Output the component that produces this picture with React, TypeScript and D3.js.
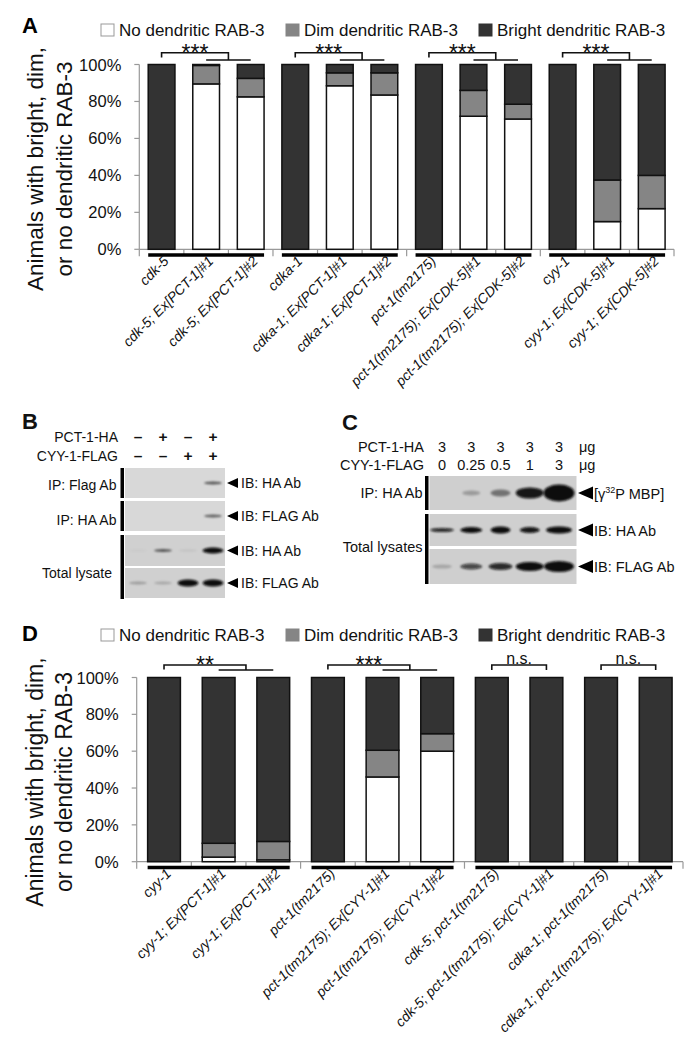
import React from 'react';
import * as d3 from 'd3';

const FONT = "'Liberation Sans', Arial, Helvetica, sans-serif";

// ---------- data ----------
const legendLabels = ['No dendritic RAB-3', 'Dim dendritic RAB-3', 'Bright dendritic RAB-3'];
const legendColors = ['#ffffff', '#858585', '#333333'];
const yTicks = [0, 20, 40, 60, 80, 100];

const categoriesA = [
  'cdk-5', 'cdk-5; Ex[PCT-1]#1', 'cdk-5; Ex[PCT-1]#2',
  'cdka-1', 'cdka-1; Ex[PCT-1]#1', 'cdka-1; Ex[PCT-1]#2',
  'pct-1(tm2175)', 'pct-1(tm2175); Ex[CDK-5]#1', 'pct-1(tm2175); Ex[CDK-5]#2',
  'cyy-1', 'cyy-1; Ex[CDK-5]#1', 'cyy-1; Ex[CDK-5]#2',
];
const noA = [0, 89.5, 82.5, 0, 88.5, 83.5, 0, 72, 70.5, 0, 15, 22];
const dimA = [0, 10, 10, 0, 7, 12, 0, 14, 8, 0, 22.5, 18];
const brightA = [100, 0.5, 7.5, 100, 4.5, 4.5, 100, 14, 21.5, 100, 62.5, 60];
const groupsA = [[0, 2], [3, 5], [6, 8], [9, 11]];
const bracketsA = [
  { kind: 'three', first: 0, label: '***' },
  { kind: 'three', first: 3, label: '***' },
  { kind: 'three', first: 6, label: '***' },
  { kind: 'three', first: 9, label: '***' },
];

const categoriesD = [
  'cyy-1', 'cyy-1; Ex[PCT-1]#1', 'cyy-1; Ex[PCT-1]#2',
  'pct-1(tm2175)', 'pct-1(tm2175); Ex[CYY-1]#1', 'pct-1(tm2175); Ex[CYY-1]#2',
  'cdk-5; pct-1(tm2175)', 'cdk-5; pct-1(tm2175); Ex[CYY-1]#1',
  'cdka-1; pct-1(tm2175)', 'cdka-1; pct-1(tm2175); Ex[CYY-1]#1',
];
const noD = [0, 2.5, 1, 0, 46, 60, 0, 0, 0, 0];
const dimD = [0, 7.5, 10, 0, 14.5, 9.5, 0, 0, 0, 0];
const brightD = [100, 90, 89, 100, 39.5, 30.5, 100, 100, 100, 100];
const groupsD = [[0, 2], [3, 5], [6, 9]];
const bracketsD = [
  { kind: 'three', first: 0, label: '**' },
  { kind: 'three', first: 3, label: '***' },
  { kind: 'pair', first: 6, label: 'n.s.' },
  { kind: 'pair', first: 8, label: 'n.s.' },
];

// Panel B (co-IP) : lane conditions and band intensities
const bPct = ['–', '+', '–', '+'];
const bCyy = ['–', '–', '+', '+'];
const bPanels = [
  { left: 'IP: Flag Ab', right: 'IB: HA Ab', intens: [0, 0, 0, 0.6], thick: [2, 2, 2, 3] },
  { left: 'IP: HA Ab', right: 'IB: FLAG Ab', intens: [0, 0, 0, 0.55], thick: [2, 2, 2, 3] },
  { left: '', right: 'IB: HA Ab', intens: [0.04, 0.6, 0.08, 1], thick: [2, 3, 2, 6] },
  { left: '', right: 'IB: FLAG Ab', intens: [0.25, 0.2, 1, 1], thick: [3, 3, 7, 7] },
];

// Panel C (kinase assay)
const cPct = ['3', '3', '3', '3', '3'];
const cCyy = ['0', '0.25', '0.5', '1', '3'];
const cPanels = [
  { right: 'MBP', intens: [0, 0.25, 0.45, 0.95, 1], thick: [3, 5, 7, 11, 17], width: [16, 18, 20, 28, 31] },
  { right: 'IB: HA Ab', intens: [0.85, 1, 1, 0.95, 1], thick: [4, 6, 7, 6, 7], width: [24, 22, 20, 20, 26] },
  { right: 'IB: FLAG Ab', intens: [0.2, 0.7, 0.85, 1, 1], thick: [4, 6, 7, 9, 11], width: [20, 22, 24, 28, 30] },
];

// ---------- components ----------
type PanelProps = {
  letter: string;
  cats: string[];
  no: number[];
  dim: number[];
  bright: number[];
  groups: number[][];
  brackets: { kind: string; first: number; label: string }[];
  x0: number; x1: number; y0: number; y100: number;
  legendY: number; letterY: number;
  brTop: number; brLeftEnd: number; brLower: number; brText: number;
  titleX: number[]; titleY: number; titleSize: number;
  blackY: number;
};

function StackedPanel(p: PanelProps) {
  const x = d3.scaleBand<number>().domain(d3.range(p.cats.length)).range([p.x0, p.x1]).paddingInner(0.4).paddingOuter(0.2);
  const y = d3.scaleLinear().domain([0, 100]).range([p.y0, p.y100]);
  const step = x.step();
  const cx = (i: number) => (x(i) as number) + x.bandwidth() / 2;
  const legendX = [101, 286, 479];
  const groupEdges = p.groups.slice(1).map((g) => g[0]);
  return (
    <g>
      <text x={22} y={p.letterY} fontSize={22} fontWeight="bold" fontFamily={FONT}>{p.letter}</text>
      {legendLabels.map((l, i) => (
        <g key={l}>
          <rect x={legendX[i]} y={p.legendY - 12} width={13} height={12} fill={legendColors[i]} stroke={i === 0 ? '#999' : legendColors[i]} strokeWidth={1} />
          <text x={legendX[i] + 18} y={p.legendY} fontSize={17} fontFamily={FONT} fill="#111">{l}</text>
        </g>
      ))}
      {/* y title */}
      <g fontFamily={FONT} fontSize={p.titleSize} fill="#111" textAnchor="middle">
        <text transform={`translate(${p.titleX[0]},${p.titleY}) rotate(-90)`}>Animals with bright, dim,</text>
        <text transform={`translate(${p.titleX[1]},${p.titleY}) rotate(-90)`}>or no dendritic RAB-3</text>
      </g>
      {/* y axis */}
      <line x1={p.x0} x2={p.x0} y1={y(0)} y2={y(100)} stroke="#999" strokeWidth={1.2} />
      {yTicks.map((t) => (
        <g key={t}>
          <line x1={p.x0 - 5} x2={p.x0} y1={y(t)} y2={y(t)} stroke="#999" strokeWidth={1.2} />
          <text x={p.x0 - 18} y={y(t) + 6} textAnchor="end" fontSize={16.5} fontFamily={FONT} fill="#111">{t}%</text>
        </g>
      ))}
      {/* x axis */}
      <line x1={p.x0} x2={p.x1} y1={y(0)} y2={y(0)} stroke="#999" strokeWidth={1.2} />
      {d3.range(p.cats.length + 1).map((i) => (
        <line key={i} x1={p.x0 + i * step} x2={p.x0 + i * step} y1={y(0)} y2={y(0) + (groupEdges.includes(i) || i === 0 || i === p.cats.length ? 7 : 5)} stroke="#999" strokeWidth={1.2} />
      ))}
      {/* bars */}
      {p.cats.map((c, i) => {
        const segs = [p.no[i], p.dim[i], p.bright[i]];
        let acc = 0;
        return (
          <g key={c}>
            {segs.map((v, k) => {
              const start = acc;
              acc += v;
              if (v <= 0) return null;
              return (
                <rect key={k} x={x(i)} y={y(start + v)} width={x.bandwidth()} height={y(start) - y(start + v)}
                  fill={legendColors[k]} stroke="#111" strokeWidth={1.5} />
              );
            })}
          </g>
        );
      })}
      {/* group black lines */}
      {p.groups.map((g, i) => (
        <line key={i} x1={x(g[0]) as number} x2={(x(g[1]) as number) + x.bandwidth()} y1={p.blackY} y2={p.blackY} stroke="#000" strokeWidth={3.5} />
      ))}
      {/* x labels */}
      {p.cats.map((c, i) => (
        <text key={c} transform={`translate(${cx(i) + 8},${p.blackY + 7}) rotate(-45)`} textAnchor="end" fontSize={14} fontStyle="italic" fontFamily={FONT} fill="#111">{c}</text>
      ))}
      {/* significance brackets */}
      {p.brackets.map((b, i) => {
        const a = cx(b.first);
        if (b.kind === 'three') {
          const m = (cx(b.first + 1) + cx(b.first + 2)) / 2;
          return (
            <g key={i}>
              <path d={`M${a},${p.brLeftEnd}V${p.brTop}H${m}V${p.brLower}M${cx(b.first + 1)},${p.brLower}H${cx(b.first + 2)}`} fill="none" stroke="#111" strokeWidth={1.6} />
              <text x={(a + m) / 2} y={p.brText} textAnchor="middle" fontSize={b.label === 'n.s.' ? 16 : 23} fontFamily={FONT} fill="#111">{b.label}</text>
            </g>
          );
        }
        const e = cx(b.first + 1);
        return (
          <g key={i}>
            <path d={`M${a},${p.brLower}V${p.brTop}H${e}V${p.brLower}`} fill="none" stroke="#111" strokeWidth={1.6} />
            <text x={(a + e) / 2} y={p.brTop - 1.5} textAnchor="middle" fontSize={16} fontFamily={FONT} fill="#111">{b.label}</text>
          </g>
        );
      })}
    </g>
  );
}

function Band({ x, y, w, h, v }: { x: number; y: number; w: number; h: number; v: number }) {
  if (v <= 0) return null;
  return <ellipse cx={x} cy={y} rx={w / 2} ry={h / 2} fill={`rgba(10,10,10,${v})`} filter="url(#blur)" />;
}

function Triangle({ x, y, w, h }: { x: number; y: number; w: number; h: number }) {
  return <path d={`M${x},${y}L${x + w},${y - h / 2}L${x + w},${y + h / 2}Z`} fill="#000" />;
}

function PanelB() {
  const lane = d3.scalePoint<number>().domain(d3.range(4)).range([138, 213]);
  const panelY = [[468, 498], [501, 531], [535, 566], [568, 598]];
  return (
    <g fontFamily={FONT} fill="#111">
      <text x={22} y={429} fontSize={22} fontWeight="bold">B</text>
      <text x={118} y={442} fontSize={14} textAnchor="end">PCT-1-HA</text>
      <text x={118} y={461} fontSize={14} textAnchor="end">CYY-1-FLAG</text>
      {bPct.map((s, i) => <text key={'p' + i} x={lane(i)} y={442} fontSize={15.5} fontWeight="bold" textAnchor="middle">{s}</text>)}
      {bCyy.map((s, i) => <text key={'c' + i} x={lane(i)} y={461} fontSize={15.5} fontWeight="bold" textAnchor="middle">{s}</text>)}
      <rect x={120.5} y={468} width={3.5} height={30} fill="#000" />
      <rect x={120.5} y={501} width={3.5} height={30} fill="#000" />
      <rect x={120.5} y={535} width={3.5} height={64} fill="#000" />
      {bPanels.map((p, k) => {
        const [a, b] = panelY[k];
        const mid = (a + b) / 2;
        return (
          <g key={k}>
            <rect x={125} y={a} width={100} height={b - a} fill={k >= 2 ? '#d0d0d0' : '#d8d8d8'} />
            {p.intens.map((v, i) => (
              <Band key={i} x={lane(i) as number} y={mid} w={v > 0.8 ? 21 : 18} h={p.thick[i]} v={v} />
            ))}
            <Triangle x={227} y={mid} w={11} h={10} />
            <text x={241} y={mid + 5} fontSize={14}>{p.right}</text>
          </g>
        );
      })}
      <text x={116.5} y={490} fontSize={14} textAnchor="end">IP: Flag Ab</text>
      <text x={116.5} y={525} fontSize={14} textAnchor="end">IP: HA Ab</text>
      <text x={112} y={578} fontSize={14} textAnchor="end">Total lysate</text>
    </g>
  );
}

function PanelC() {
  const lane = d3.scalePoint<number>().domain(d3.range(5)).range([442, 559]);
  const panelY = [[476, 510], [514, 546], [549, 584]];
  return (
    <g fontFamily={FONT} fill="#111">
      <text x={342} y={430} fontSize={22} fontWeight="bold">C</text>
      <text x={424} y={452} fontSize={14.5} textAnchor="end">PCT-1-HA</text>
      <text x={424} y={470} fontSize={14.5} textAnchor="end">CYY-1-FLAG</text>
      {cPct.map((s, i) => <text key={'p' + i} x={lane(i)} y={452} fontSize={14.5} textAnchor="middle">{s}</text>)}
      {cCyy.map((s, i) => <text key={'c' + i} x={lane(i)} y={470} fontSize={14.5} textAnchor="middle">{s}</text>)}
      <text x={579} y={452} fontSize={14.5}>μg</text>
      <text x={579} y={470} fontSize={14.5}>μg</text>
      <rect x={425} y={476} width={3.5} height={34} fill="#000" />
      <rect x={425} y={514} width={3.5} height={70} fill="#000" />
      {cPanels.map((p, k) => {
        const [a, b] = panelY[k];
        const mid = (a + b) / 2;
        return (
          <g key={k}>
            <rect x={429.5} y={a} width={147} height={b - a} fill="#cfcfcf" />
            {p.intens.map((v, i) => (
              <Band key={i} x={lane(i) as number} y={mid} w={p.width[i]} h={p.thick[i]} v={v} />
            ))}
            <Triangle x={578} y={mid} w={15} h={13} />
            {k === 0 ? (
              <text x={594} y={mid + 5.5} fontSize={14.5}>[γ<tspan fontSize={9} dy={-6}>32</tspan><tspan dy={6}>P MBP]</tspan></text>
            ) : (
              <text x={594} y={mid + 5.5} fontSize={14.5}>{p.right}</text>
            )}
          </g>
        );
      })}
      <text x={422.5} y={498} fontSize={14.5} textAnchor="end">IP: HA Ab</text>
      <text x={422.5} y={552} fontSize={14.5} textAnchor="end">Total lysates</text>
    </g>
  );
}

export default function App() {
  return (
    <div style={{ position: 'absolute', left: 0, top: 0 }}>
      <svg width={692} height={1050} viewBox="0 0 692 1050" style={{ display: 'block', background: '#fff' }}>
        <defs>
          <filter id="blur" x="-50%" y="-100%" width="200%" height="300%">
            <feGaussianBlur stdDeviation="1.2" />
          </filter>
        </defs>
        <rect width={692} height={1050} fill="#fff" />
        <StackedPanel
          letter="A" cats={categoriesA} no={noA} dim={dimA} bright={brightA} groups={groupsA} brackets={bracketsA}
          x0={139.3} x1={674} y0={249.3} y100={64.5} legendY={36} letterY={33}
          brTop={52.7} brLeftEnd={57.5} brLower={60} brText={60.5}
          titleX={[43, 72]} titleY={169} titleSize={22.5} blackY={255}
        />
        <PanelB />
        <PanelC />
        <StackedPanel
          letter="D" cats={categoriesD} no={noD} dim={dimD} bright={brightD} groups={groupsD} brackets={bracketsD}
          x0={136.7} x1={683} y0={861.7} y100={677.5} legendY={641} letterY={641}
          brTop={665} brLeftEnd={669.5} brLower={670} brText={673}
          titleX={[43, 72]} titleY={782} titleSize={23} blackY={867.5}
        />
      </svg>
    </div>
  );
}
